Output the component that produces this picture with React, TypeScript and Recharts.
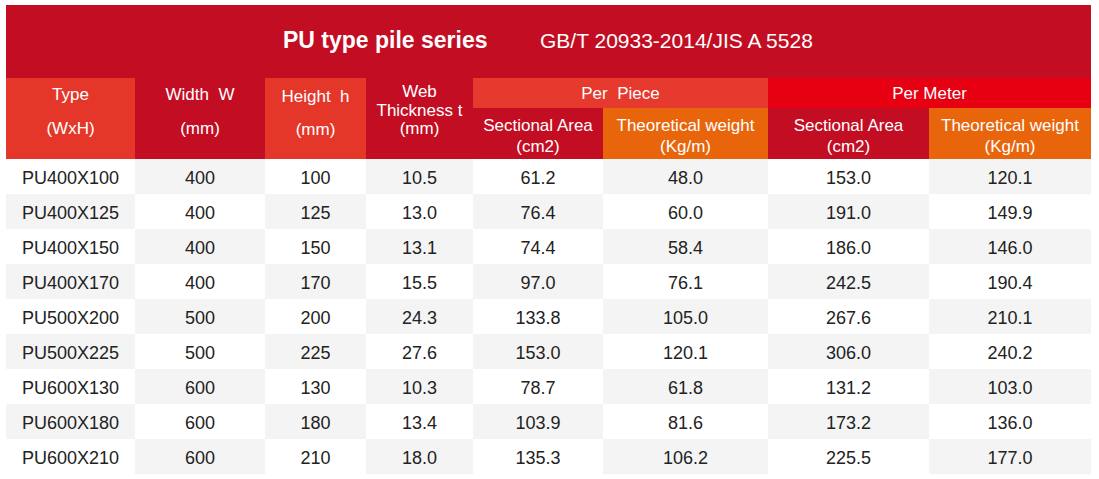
import React from 'react';
import { BarChart, Bar, XAxis, YAxis, Customized } from 'recharts';

// Table values
const types = ['PU400X100', 'PU400X125', 'PU400X150', 'PU400X170', 'PU500X200', 'PU500X225', 'PU600X130', 'PU600X180', 'PU600X210'];
const widthW = [400, 400, 400, 400, 500, 500, 600, 600, 600];
const heightH = [100, 125, 150, 170, 200, 225, 130, 180, 210];
const webT = [10.5, 13.0, 13.1, 15.5, 24.3, 27.6, 10.3, 13.4, 18.0];
const pieceArea = [61.2, 76.4, 74.4, 97.0, 133.8, 153.0, 78.7, 103.9, 135.3];
const pieceWeight = [48.0, 60.0, 58.4, 76.1, 105.0, 120.1, 61.8, 81.6, 106.2];
const meterArea = [153.0, 191.0, 186.0, 242.5, 267.6, 306.0, 131.2, 173.2, 225.5];
const meterWeight = [120.1, 149.9, 146.0, 190.4, 210.1, 240.2, 103.0, 136.0, 177.0];

// layout (px): column widths, left edge of the table
const COL_W = [129, 130, 101, 107, 130, 165, 161, 162];
const LEFT = 6;
const TOTAL = COL_W.reduce((a, b) => a + b, 0);
const EDGES = COL_W.reduce<number[]>((acc, w) => [...acc, acc[acc.length - 1] + w], [LEFT]);

const CRIMSON = '#C30D23';
const RED_ORANGE = '#E4372A';
const PIECE = '#E53A2D';
const METER = '#E60012';
const ORANGE = '#E8650C';
const GREY = '#F4F4F4';
const FONT = '"Liberation Sans", Arial, sans-serif';

const fmt1 = (v: number) => v.toFixed(1);

const rows = types.map((t, i) => {
  const vals = [t, String(widthW[i]), String(heightH[i]), fmt1(webT[i]), fmt1(pieceArea[i]), fmt1(pieceWeight[i]), fmt1(meterArea[i]), fmt1(meterWeight[i])];
  const r: Record<string, string | number> = { type: t };
  COL_W.forEach((w, c) => {
    r[`w${c}`] = w;
    r[`v${c}`] = vals[c];
  });
  return r;
});

function cellShape(col: number) {
  return (props: any) => {
    const { x, y, width, height, payload, index } = props;
    const fill = (index + col) % 2 === 1 ? GREY : '#FFFFFF';
    return (
      <g>
        <rect x={x} y={y} width={width} height={height} fill={fill} />
        <text
          x={x + width / 2}
          y={y + height / 2 + 1}
          textAnchor="middle"
          dominantBaseline="central"
          fontSize={18}
          fontFamily={FONT}
          fill="#222"
        >
          {payload[`v${col}`]}
        </text>
      </g>
    );
  };
}

function HText({ x, y, children, size = 17 }: { x: number; y: number; children: React.ReactNode; size?: number }) {
  return (
    <text x={x} y={y} textAnchor="middle" dominantBaseline="central" fontSize={size} fontFamily={FONT} fill="#fff">
      {children}
    </text>
  );
}

function Header() {
  const mid = (a: number, b: number) => (EDGES[a] + EDGES[b]) / 2;
  const span = (a: number, b: number) => EDGES[b] - EDGES[a];
  return (
    <g>
      <rect x={LEFT} y={5} width={TOTAL} height={73} fill={CRIMSON} />
      <text x={283} y={48} fontSize={23} fontWeight="bold" fontFamily={FONT} fill="#fff">
        PU type pile series
      </text>
      <text x={540} y={48} fontSize={21} fontFamily={FONT} fill="#fff">
        GB/T 20933-2014/JIS A 5528
      </text>

      <rect x={EDGES[0]} y={78} width={span(0, 1)} height={81} fill={RED_ORANGE} />
      <rect x={EDGES[1]} y={78} width={span(1, 2)} height={81} fill={CRIMSON} />
      <rect x={EDGES[2]} y={78} width={span(2, 3)} height={81} fill={RED_ORANGE} />
      <rect x={EDGES[3]} y={78} width={span(3, 4)} height={81} fill={CRIMSON} />
      <rect x={EDGES[4]} y={78} width={span(4, 6)} height={30} fill={PIECE} />
      <rect x={EDGES[6]} y={78} width={span(6, 8)} height={30} fill={METER} />
      <rect x={EDGES[4]} y={108} width={span(4, 5)} height={51} fill={CRIMSON} />
      <rect x={EDGES[5]} y={108} width={span(5, 6)} height={51} fill={ORANGE} />
      <rect x={EDGES[6]} y={108} width={span(6, 7)} height={51} fill={CRIMSON} />
      <rect x={EDGES[7]} y={108} width={span(7, 8)} height={51} fill={ORANGE} />

      <HText x={mid(0, 1)} y={94}>Type</HText>
      <HText x={mid(0, 1)} y={128}>(WxH)</HText>
      <HText x={mid(1, 2)} y={94}>{'Width\u00a0 W'}</HText>
      <HText x={mid(1, 2)} y={128}>(mm)</HText>
      <HText x={mid(2, 3)} y={96}>{'Height\u00a0 h'}</HText>
      <HText x={mid(2, 3)} y={129}>(mm)</HText>
      <HText x={mid(3, 4)} y={91}>Web</HText>
      <HText x={mid(3, 4)} y={110}>Thickness t</HText>
      <HText x={mid(3, 4)} y={128}>(mm)</HText>

      <HText x={mid(4, 6)} y={93}>{'Per\u00a0 Piece'}</HText>
      <HText x={mid(6, 8)} y={93}>Per Meter</HText>

      <HText x={mid(4, 5)} y={125}>Sectional Area</HText>
      <HText x={mid(4, 5)} y={146}>(cm2)</HText>
      <HText x={mid(5, 6)} y={125}>Theoretical weight</HText>
      <HText x={mid(5, 6)} y={146}>(Kg/m)</HText>
      <HText x={mid(6, 7)} y={125}>Sectional Area</HText>
      <HText x={mid(6, 7)} y={146}>(cm2)</HText>
      <HText x={mid(7, 8)} y={125}>Theoretical weight</HText>
      <HText x={mid(7, 8)} y={146}>(Kg/m)</HText>
    </g>
  );
}

export default function App() {
  return (
    <div style={{ position: 'absolute', left: 0, top: 0, width: 1099, height: 479, background: '#fff' }}>
      <BarChart
        width={1099}
        height={479}
        data={rows}
        layout="vertical"
        barCategoryGap={0}
        margin={{ top: 159, right: 1099 - LEFT - TOTAL, bottom: 5, left: LEFT }}
      >
        <XAxis type="number" hide domain={[0, TOTAL]} />
        <YAxis type="category" dataKey="type" hide />
        {COL_W.map((_, c) => (
          <Bar key={c} dataKey={`w${c}`} stackId="t" isAnimationActive={false} shape={cellShape(c)} />
        ))}
        <Customized component={Header} />
      </BarChart>
    </div>
  );
}
